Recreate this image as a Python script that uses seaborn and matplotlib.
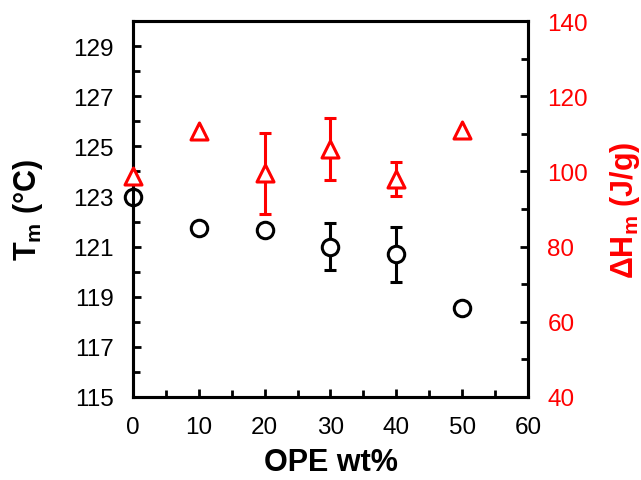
import numpy as np
import pandas as pd
import matplotlib
matplotlib.use('Agg')
import matplotlib.pyplot as plt
import seaborn as sns
from matplotlib.ticker import MultipleLocator

# data
ope = [0, 10, 20, 30, 40, 50]
tm = [123.0, 121.75, 121.65, 121.0, 120.7, 118.55]
tm_err = [0, 0, 0, 0.93, 1.1, 0]
dhm = [98.9, 110.8, 99.5, 105.9, 98.1, 111.0]
dhm_err = [0, 0, 10.8, 8.3, 4.5, 0]

sns.set_style('ticks')
plt.rcParams['font.family'] = ['Liberation Sans', 'DejaVu Sans']
plt.rcParams['mathtext.fontset'] = 'custom'
plt.rcParams['mathtext.bf'] = 'Liberation Sans:bold'
plt.rcParams['mathtext.rm'] = 'Liberation Sans:bold'
for k in ['text.color', 'axes.labelcolor', 'xtick.color', 'ytick.color']:
    plt.rcParams[k] = 'black'

df = pd.DataFrame({'ope': ope, 'tm': tm, 'tm_err': tm_err,
                   'dhm': dhm, 'dhm_err': dhm_err})

fig = plt.figure(figsize=(6.41, 4.81), dpi=100)
ax = fig.add_axes([0.2075, 0.1726, 0.6162, 0.7814])
ax2 = ax.twinx()

# error bars first, only where nonzero
e1 = df[df['tm_err'] > 0]
ax.errorbar(e1['ope'], e1['tm'], yerr=e1['tm_err'], fmt='none',
            ecolor='black', elinewidth=2.2, capsize=4, capthick=2.2, zorder=2)
e2 = df[df['dhm_err'] > 0]
ax2.errorbar(e2['ope'], e2['dhm'], yerr=e2['dhm_err'], fmt='none',
             ecolor='red', elinewidth=2.2, capsize=4, capthick=2.2, zorder=2)

sns.scatterplot(data=df, x='ope', y='tm', ax=ax, marker='o', s=140,
                facecolor='white', edgecolor='black', linewidth=2.2,
                zorder=3, clip_on=False)
sns.scatterplot(data=df, x='ope', y='dhm', ax=ax2, marker='^', s=150,
                facecolor='white', edgecolor='red', linewidth=2.2,
                zorder=3, clip_on=False)

ax.set_xlim(0, 60)
ax.set_ylim(115, 130)
ax2.set_ylim(40, 140)

ax.xaxis.set_major_locator(MultipleLocator(10))
ax.xaxis.set_minor_locator(MultipleLocator(5))
ax.set_yticks(np.arange(115, 130, 2))
ax.yaxis.set_minor_locator(MultipleLocator(1))
ax2.yaxis.set_major_locator(MultipleLocator(20))
ax2.yaxis.set_minor_locator(MultipleLocator(10))

for a in (ax, ax2):
    for s in a.spines.values():
        s.set_linewidth(2.2)
        s.set_color('black')
    a.tick_params(which='both', direction='in', width=2, labelsize=17.5)
    a.tick_params(which='major', length=6, pad=14)
    a.tick_params(which='minor', length=5)
ax.tick_params(axis='x', top=False, which='both')
ax2.tick_params(axis='y', labelcolor='red')

ax.set_xlabel('OPE wt%', fontsize=22, fontweight='bold', labelpad=6)
ax.set_ylabel(r'T$_\mathbf{m}$ (°C)', fontsize=22, fontweight='bold', labelpad=20)
ax2.set_ylabel(r'$\Delta$H$_\mathbf{m}$ (J/g)', fontsize=22, fontweight='bold',
               color='red', labelpad=14)

fig.savefig('out.png', dpi=100)
